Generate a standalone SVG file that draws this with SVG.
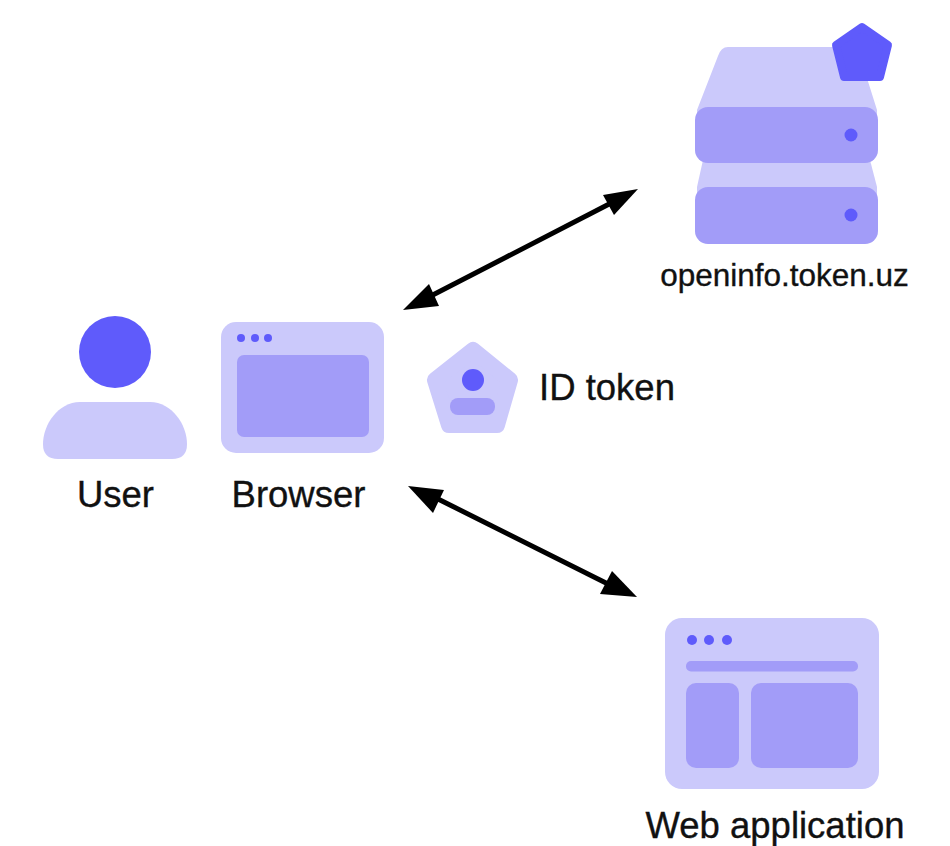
<svg xmlns="http://www.w3.org/2000/svg" width="950" height="846" viewBox="0 0 950 846">
<style>
.l{fill:#cbc9fb}.m{fill:#a29cf8}.d{fill:#5f5bfb}
.rl{fill:#cbc9fb;stroke:#cbc9fb;stroke-linejoin:round}
.t{font-family:"Liberation Sans",Arial,sans-serif;font-size:36.500px;fill:#111;stroke:#111;stroke-width:.35}
.c{stroke:#000;stroke-width:5;fill:none}
.h{fill:#000}
</style>
<rect width="950" height="846" fill="#fff"/>
<g id="connectors">
<line class="c" x1="425" y1="299" x2="615" y2="201"/>
<polygon class="h" points="638,189 603,195 614,215"/>
<polygon class="h" points="403,310 429,284 439,306"/>
<line class="c" x1="430" y1="495" x2="612" y2="586"/>
<polygon class="h" points="408,486 444,490 433,513"/>
<polygon class="h" points="637,597 612,571 600,594"/>
</g>
<g id="user">
<path class="l" d="M80 402H150C172 402 187 425 187 444Q187 459 172 459H58Q43 459 43 444C43 425 58 402 80 402Z"/>
<circle class="d" cx="115" cy="352" r="36"/>
<text class="t" x="115.500" y="507" text-anchor="middle">User</text>
</g>
<g id="browser">
<rect class="l" x="221" y="322" width="163" height="131" rx="15"/>
<rect class="m" x="237" y="355" width="132" height="82" rx="7"/>
<circle class="d" cx="241" cy="338" r="4"/>
<circle class="d" cx="255" cy="338" r="4"/>
<circle class="d" cx="268" cy="338" r="4"/>
<text class="t" x="298.500" y="507" text-anchor="middle">Browser</text>
</g>
<g id="id-token">
<polygon class="rl" stroke-width="16" points="473,350 510,380 497,425 449,425 435,380"/>
<circle class="d" cx="473" cy="380" r="11"/>
<rect class="m" x="450" y="398" width="45" height="17" rx="8"/>
<text class="t" x="539" y="400">ID token</text>
</g>
<g id="server">
<path class="l" d="M728 47H846Q856 47 860 56L877 110V125H697V110L718 56Q721 47 728 47Z"/>
<polygon class="l" points="703,160 870,160 877,187 877,200 697,200 697,187"/>
<rect class="m" x="695" y="107" width="183" height="56" rx="13"/>
<rect class="m" x="695" y="187" width="183" height="57" rx="13"/>
<circle class="d" cx="851" cy="135" r="6.500"/>
<circle class="d" cx="851" cy="215" r="6.500"/>
<polygon class="d" stroke="#5f5bfb" stroke-width="8" stroke-linejoin="round" points="862,27 888,45 880,77 844,77 836,45"/>
<text class="t" style="font-size:31.500px" x="784.500" y="286" text-anchor="middle">openinfo.token.uz</text>
</g>
<g id="web-application">
<rect class="l" x="665" y="618" width="214" height="171" rx="17"/>
<circle class="d" cx="692" cy="640" r="5"/>
<circle class="d" cx="709" cy="640" r="5"/>
<circle class="d" cx="727" cy="640" r="5"/>
<rect class="m" x="686" y="661" width="172" height="10.500" rx="5"/>
<rect class="m" x="686" y="683" width="53" height="85" rx="10"/>
<rect class="m" x="751" y="683" width="107" height="85" rx="10"/>
<text class="t" x="775" y="838" text-anchor="middle">Web application</text>
</g>
</svg>
